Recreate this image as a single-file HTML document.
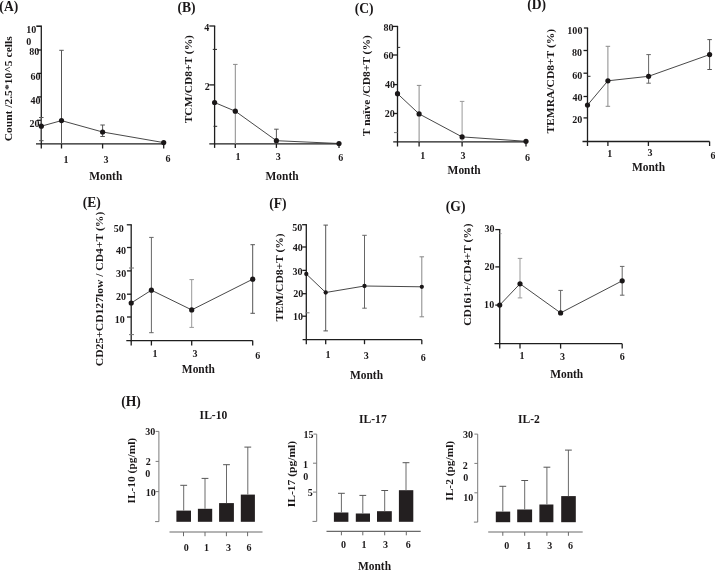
<!DOCTYPE html>
<html><head><meta charset="utf-8"><style>
html,body{margin:0;padding:0;background:#fff;}
body{width:715px;height:570px;overflow:hidden;}
svg{display:block;will-change:transform;}
text{font-family:"Liberation Serif",serif;font-weight:bold;}
</style></head><body>
<svg width="715" height="570" viewBox="0 0 715 570">
<rect width="715" height="570" fill="#fff"/>
<text transform="translate(-0.64,11.17) scale(1.000,1)" font-size="13.60" fill="#1a1718">(A)</text>
<line x1="41.30" y1="26.50" x2="41.30" y2="144.40" stroke="#1e1e1e" stroke-width="1.3"/>
<line x1="36.30" y1="26.20" x2="41.90" y2="26.20" stroke="#1e1e1e" stroke-width="1.6"/>
<line x1="37.00" y1="50.00" x2="41.30" y2="50.00" stroke="#1e1e1e" stroke-width="1.3"/>
<line x1="37.00" y1="73.40" x2="41.30" y2="73.40" stroke="#1e1e1e" stroke-width="1.3"/>
<line x1="37.00" y1="96.90" x2="41.30" y2="96.90" stroke="#1e1e1e" stroke-width="1.3"/>
<line x1="37.00" y1="120.30" x2="41.30" y2="120.30" stroke="#1e1e1e" stroke-width="1.3"/>
<line x1="36.00" y1="143.80" x2="164.00" y2="143.80" stroke="#1e1e1e" stroke-width="1.3"/>
<line x1="41.30" y1="143.80" x2="41.30" y2="148.50" stroke="#1e1e1e" stroke-width="1.3"/>
<line x1="61.50" y1="143.80" x2="61.50" y2="148.50" stroke="#1e1e1e" stroke-width="1.3"/>
<line x1="102.60" y1="143.80" x2="102.60" y2="148.50" stroke="#1e1e1e" stroke-width="1.3"/>
<line x1="163.70" y1="143.80" x2="163.70" y2="148.50" stroke="#1e1e1e" stroke-width="1.3"/>
<text transform="translate(26.16,33.08) scale(1.070,1)" font-size="9.40" fill="#1a1718">10</text>
<text transform="translate(26.19,44.78) scale(1.070,1)" font-size="9.40" fill="#1a1718">0</text>
<text transform="translate(29.25,55.28) scale(1.070,1)" font-size="9.40" fill="#1a1718">80</text>
<text transform="translate(30.49,80.48) scale(1.070,1)" font-size="9.40" fill="#1a1718">60</text>
<text transform="translate(30.59,103.73) scale(1.070,1)" font-size="9.40" fill="#1a1718">40</text>
<text transform="translate(29.45,126.83) scale(1.070,1)" font-size="9.40" fill="#1a1718">20</text>
<text transform="translate(63.59,163.05) scale(1.070,1)" font-size="9.40" fill="#1a1718">1</text>
<text transform="translate(103.62,162.52) scale(1.070,1)" font-size="9.40" fill="#1a1718">3</text>
<text transform="translate(165.51,161.72) scale(1.070,1)" font-size="9.40" fill="#1a1718">6</text>
<text transform="translate(89.18,180.15) scale(0.955,1)" font-size="12.00" fill="#1a1718">Month</text>
<text transform="translate(12.34,141.36) scale(0.979,1) rotate(-90)" font-size="11.54" fill="#1a1718">Count /2.5*10^5 cells</text>
<line x1="41.30" y1="117.50" x2="41.30" y2="140.70" stroke="#555" stroke-width="1.0"/>
<line x1="39.05" y1="117.50" x2="43.55" y2="117.50" stroke="#555" stroke-width="1.0"/>
<line x1="39.05" y1="140.70" x2="43.55" y2="140.70" stroke="#555" stroke-width="1.0"/>
<line x1="61.50" y1="50.30" x2="61.50" y2="143.80" stroke="#555" stroke-width="1.0"/>
<line x1="59.25" y1="50.30" x2="63.75" y2="50.30" stroke="#555" stroke-width="1.0"/>
<line x1="102.60" y1="125.00" x2="102.60" y2="136.50" stroke="#555" stroke-width="1.0"/>
<line x1="100.35" y1="125.00" x2="104.85" y2="125.00" stroke="#555" stroke-width="1.0"/>
<line x1="100.35" y1="136.50" x2="104.85" y2="136.50" stroke="#555" stroke-width="1.0"/>
<polyline points="41.30,126.20 61.50,120.60 102.60,132.00 163.70,142.60" fill="none" stroke="#333" stroke-width="0.9"/>
<circle cx="41.30" cy="126.20" r="2.6" fill="#1a1718"/>
<circle cx="61.50" cy="120.60" r="2.6" fill="#1a1718"/>
<circle cx="102.60" cy="132.00" r="2.6" fill="#1a1718"/>
<circle cx="163.70" cy="142.60" r="2.6" fill="#1a1718"/>
<text transform="translate(177.44,12.07) scale(1.000,1)" font-size="13.60" fill="#1a1718">(B)</text>
<line x1="214.60" y1="26.00" x2="214.60" y2="144.50" stroke="#1e1e1e" stroke-width="1.3"/>
<line x1="209.30" y1="26.00" x2="215.20" y2="26.00" stroke="#1e1e1e" stroke-width="1.3"/>
<line x1="209.30" y1="84.90" x2="214.60" y2="84.90" stroke="#1e1e1e" stroke-width="1.3"/>
<line x1="212.80" y1="49.40" x2="217.00" y2="49.40" stroke="#2a2a2a" stroke-width="1.0"/>
<line x1="213.50" y1="126.30" x2="217.20" y2="126.30" stroke="#2a2a2a" stroke-width="1.0"/>
<line x1="209.30" y1="143.90" x2="339.00" y2="143.90" stroke="#1e1e1e" stroke-width="1.3"/>
<line x1="214.60" y1="143.90" x2="214.60" y2="147.90" stroke="#1e1e1e" stroke-width="1.3"/>
<line x1="235.30" y1="143.90" x2="235.30" y2="147.90" stroke="#1e1e1e" stroke-width="1.3"/>
<line x1="276.40" y1="143.90" x2="276.40" y2="147.90" stroke="#1e1e1e" stroke-width="1.3"/>
<line x1="339.00" y1="143.90" x2="339.00" y2="147.90" stroke="#1e1e1e" stroke-width="1.3"/>
<text transform="translate(204.31,31.19) scale(1.070,1)" font-size="9.40" fill="#1a1718">4</text>
<text transform="translate(204.84,90.26) scale(1.070,1)" font-size="9.40" fill="#1a1718">2</text>
<text transform="translate(235.59,160.45) scale(1.070,1)" font-size="9.40" fill="#1a1718">1</text>
<text transform="translate(275.77,160.02) scale(1.070,1)" font-size="9.40" fill="#1a1718">3</text>
<text transform="translate(338.26,160.77) scale(1.070,1)" font-size="9.40" fill="#1a1718">6</text>
<text transform="translate(265.53,180.35) scale(0.955,1)" font-size="12.00" fill="#1a1718">Month</text>
<text transform="translate(192.12,123.28) scale(0.950,1) rotate(-90)" font-size="11.48" fill="#1a1718">TCM/CD8+T (%)</text>
<line x1="235.30" y1="64.40" x2="235.30" y2="143.90" stroke="#8a8a8a" stroke-width="1.0"/>
<line x1="233.05" y1="64.40" x2="237.55" y2="64.40" stroke="#8a8a8a" stroke-width="1.0"/>
<line x1="276.40" y1="129.20" x2="276.40" y2="143.90" stroke="#555" stroke-width="1.0"/>
<line x1="274.15" y1="129.20" x2="278.65" y2="129.20" stroke="#555" stroke-width="1.0"/>
<polyline points="214.60,102.50 235.30,111.20 276.40,140.70 339.00,143.50" fill="none" stroke="#333" stroke-width="0.9"/>
<circle cx="214.60" cy="102.50" r="2.6" fill="#1a1718"/>
<circle cx="235.30" cy="111.20" r="2.6" fill="#1a1718"/>
<circle cx="276.40" cy="140.70" r="2.6" fill="#1a1718"/>
<circle cx="339.00" cy="143.50" r="2.6" fill="#1a1718"/>
<text transform="translate(354.71,12.57) scale(1.000,1)" font-size="13.60" fill="#1a1718">(C)</text>
<line x1="397.50" y1="26.40" x2="397.50" y2="142.40" stroke="#1e1e1e" stroke-width="1.3"/>
<line x1="392.50" y1="26.40" x2="398.10" y2="26.40" stroke="#1e1e1e" stroke-width="1.3"/>
<line x1="393.00" y1="55.00" x2="397.50" y2="55.00" stroke="#1e1e1e" stroke-width="1.3"/>
<line x1="393.00" y1="84.60" x2="397.50" y2="84.60" stroke="#1e1e1e" stroke-width="1.3"/>
<line x1="393.00" y1="113.50" x2="397.50" y2="113.50" stroke="#1e1e1e" stroke-width="1.3"/>
<line x1="397.00" y1="47.40" x2="400.20" y2="47.40" stroke="#2a2a2a" stroke-width="1.0"/>
<line x1="394.00" y1="132.60" x2="397.50" y2="132.60" stroke="#777" stroke-width="1.0"/>
<line x1="393.20" y1="141.80" x2="526.00" y2="141.80" stroke="#1e1e1e" stroke-width="1.3"/>
<line x1="397.50" y1="141.80" x2="397.50" y2="146.50" stroke="#1e1e1e" stroke-width="1.3"/>
<line x1="419.10" y1="141.80" x2="419.10" y2="146.50" stroke="#1e1e1e" stroke-width="1.3"/>
<line x1="462.10" y1="141.80" x2="462.10" y2="146.50" stroke="#1e1e1e" stroke-width="1.3"/>
<line x1="526.00" y1="141.80" x2="526.00" y2="146.50" stroke="#1e1e1e" stroke-width="1.3"/>
<text transform="translate(383.40,30.53) scale(1.070,1)" font-size="9.40" fill="#1a1718">80</text>
<text transform="translate(383.59,58.53) scale(1.070,1)" font-size="9.40" fill="#1a1718">60</text>
<text transform="translate(384.99,88.13) scale(1.070,1)" font-size="9.40" fill="#1a1718">40</text>
<text transform="translate(384.85,117.33) scale(1.070,1)" font-size="9.40" fill="#1a1718">20</text>
<text transform="translate(420.14,158.60) scale(1.070,1)" font-size="9.40" fill="#1a1718">1</text>
<text transform="translate(460.62,158.62) scale(1.070,1)" font-size="9.40" fill="#1a1718">3</text>
<text transform="translate(525.06,160.87) scale(1.070,1)" font-size="9.40" fill="#1a1718">6</text>
<text transform="translate(447.58,173.60) scale(0.955,1)" font-size="12.00" fill="#1a1718">Month</text>
<text transform="translate(369.88,136.18) scale(0.950,1) rotate(-90)" font-size="11.50" fill="#1a1718">T naïve /CD8+T (%)</text>
<line x1="419.10" y1="85.40" x2="419.10" y2="141.80" stroke="#8a8a8a" stroke-width="1.0"/>
<line x1="416.85" y1="85.40" x2="421.35" y2="85.40" stroke="#8a8a8a" stroke-width="1.0"/>
<line x1="462.10" y1="101.40" x2="462.10" y2="141.80" stroke="#999" stroke-width="1.0"/>
<line x1="459.85" y1="101.40" x2="464.35" y2="101.40" stroke="#999" stroke-width="1.0"/>
<polyline points="397.50,93.70 419.10,113.90 462.10,136.90 526.00,141.30" fill="none" stroke="#333" stroke-width="0.9"/>
<circle cx="397.50" cy="93.70" r="2.6" fill="#1a1718"/>
<circle cx="419.10" cy="113.90" r="2.6" fill="#1a1718"/>
<circle cx="462.10" cy="136.90" r="2.6" fill="#1a1718"/>
<circle cx="526.00" cy="141.30" r="2.6" fill="#1a1718"/>
<text transform="translate(527.16,8.67) scale(1.000,1)" font-size="13.60" fill="#1a1718">(D)</text>
<line x1="587.50" y1="28.00" x2="587.50" y2="142.10" stroke="#1e1e1e" stroke-width="1.3"/>
<line x1="583.90" y1="28.00" x2="588.10" y2="28.00" stroke="#1e1e1e" stroke-width="1.3"/>
<line x1="583.50" y1="50.50" x2="587.50" y2="50.50" stroke="#1e1e1e" stroke-width="1.3"/>
<line x1="583.50" y1="73.20" x2="587.50" y2="73.20" stroke="#1e1e1e" stroke-width="1.3"/>
<line x1="583.50" y1="96.50" x2="587.50" y2="96.50" stroke="#1e1e1e" stroke-width="1.3"/>
<line x1="583.50" y1="117.90" x2="587.50" y2="117.90" stroke="#1e1e1e" stroke-width="1.3"/>
<line x1="587.00" y1="76.30" x2="590.50" y2="76.30" stroke="#2a2a2a" stroke-width="1.0"/>
<line x1="582.50" y1="141.50" x2="709.60" y2="141.50" stroke="#1e1e1e" stroke-width="1.3"/>
<line x1="587.50" y1="141.50" x2="587.50" y2="146.00" stroke="#1e1e1e" stroke-width="1.3"/>
<line x1="607.90" y1="141.50" x2="607.90" y2="146.00" stroke="#1e1e1e" stroke-width="1.3"/>
<line x1="648.40" y1="141.50" x2="648.40" y2="146.00" stroke="#1e1e1e" stroke-width="1.3"/>
<line x1="709.60" y1="141.50" x2="709.60" y2="146.00" stroke="#1e1e1e" stroke-width="1.3"/>
<text transform="translate(567.35,33.83) scale(1.070,1)" font-size="9.40" fill="#1a1718">100</text>
<text transform="translate(571.90,55.68) scale(1.070,1)" font-size="9.40" fill="#1a1718">80</text>
<text transform="translate(572.29,78.78) scale(1.070,1)" font-size="9.40" fill="#1a1718">60</text>
<text transform="translate(572.49,100.63) scale(1.070,1)" font-size="9.40" fill="#1a1718">40</text>
<text transform="translate(572.35,122.68) scale(1.070,1)" font-size="9.40" fill="#1a1718">20</text>
<text transform="translate(607.19,156.55) scale(1.070,1)" font-size="9.40" fill="#1a1718">1</text>
<text transform="translate(647.47,156.27) scale(1.070,1)" font-size="9.40" fill="#1a1718">3</text>
<text transform="translate(710.41,158.62) scale(1.070,1)" font-size="9.40" fill="#1a1718">6</text>
<text transform="translate(631.98,171.30) scale(0.955,1)" font-size="12.00" fill="#1a1718">Month</text>
<text transform="translate(553.84,133.58) scale(0.950,1) rotate(-90)" font-size="11.54" fill="#1a1718">TEMRA/CD8+T (%)</text>
<line x1="607.90" y1="46.30" x2="607.90" y2="106.30" stroke="#8a8a8a" stroke-width="1.0"/>
<line x1="605.65" y1="46.30" x2="610.15" y2="46.30" stroke="#8a8a8a" stroke-width="1.0"/>
<line x1="605.65" y1="106.30" x2="610.15" y2="106.30" stroke="#8a8a8a" stroke-width="1.0"/>
<line x1="648.60" y1="54.60" x2="648.60" y2="83.20" stroke="#666" stroke-width="1.0"/>
<line x1="646.35" y1="54.60" x2="650.85" y2="54.60" stroke="#666" stroke-width="1.0"/>
<line x1="646.35" y1="83.20" x2="650.85" y2="83.20" stroke="#666" stroke-width="1.0"/>
<line x1="709.60" y1="39.60" x2="709.60" y2="69.50" stroke="#555" stroke-width="1.0"/>
<line x1="707.35" y1="39.60" x2="711.85" y2="39.60" stroke="#555" stroke-width="1.0"/>
<line x1="707.35" y1="69.50" x2="711.85" y2="69.50" stroke="#555" stroke-width="1.0"/>
<polyline points="587.50,105.10 607.90,80.80 648.60,76.30 709.60,54.60" fill="none" stroke="#333" stroke-width="0.9"/>
<circle cx="587.50" cy="105.10" r="2.6" fill="#1a1718"/>
<circle cx="607.90" cy="80.80" r="2.6" fill="#1a1718"/>
<circle cx="648.60" cy="76.30" r="2.6" fill="#1a1718"/>
<circle cx="709.60" cy="54.60" r="2.6" fill="#1a1718"/>
<text transform="translate(82.69,206.67) scale(1.000,1)" font-size="13.60" fill="#1a1718">(E)</text>
<line x1="131.20" y1="224.80" x2="131.20" y2="341.20" stroke="#1e1e1e" stroke-width="1.3"/>
<line x1="126.80" y1="224.80" x2="131.80" y2="224.80" stroke="#1e1e1e" stroke-width="1.3"/>
<line x1="127.00" y1="247.50" x2="131.20" y2="247.50" stroke="#1e1e1e" stroke-width="1.3"/>
<line x1="127.00" y1="270.90" x2="131.20" y2="270.90" stroke="#1e1e1e" stroke-width="1.3"/>
<line x1="127.00" y1="294.20" x2="131.20" y2="294.20" stroke="#1e1e1e" stroke-width="1.3"/>
<line x1="127.00" y1="317.00" x2="131.20" y2="317.00" stroke="#1e1e1e" stroke-width="1.3"/>
<line x1="129.00" y1="268.00" x2="134.00" y2="268.00" stroke="#777" stroke-width="1.0"/>
<line x1="129.00" y1="334.60" x2="134.00" y2="334.60" stroke="#777" stroke-width="1.0"/>
<line x1="126.30" y1="340.60" x2="252.70" y2="340.60" stroke="#1e1e1e" stroke-width="1.3"/>
<line x1="131.20" y1="340.60" x2="131.20" y2="345.50" stroke="#1e1e1e" stroke-width="1.3"/>
<line x1="151.40" y1="340.60" x2="151.40" y2="345.50" stroke="#1e1e1e" stroke-width="1.3"/>
<line x1="191.70" y1="340.60" x2="191.70" y2="345.50" stroke="#1e1e1e" stroke-width="1.3"/>
<line x1="252.70" y1="340.60" x2="252.70" y2="345.50" stroke="#1e1e1e" stroke-width="1.3"/>
<text transform="translate(113.66,231.73) scale(1.070,1)" font-size="9.40" fill="#1a1718">50</text>
<text transform="translate(115.94,254.48) scale(1.070,1)" font-size="9.40" fill="#1a1718">40</text>
<text transform="translate(116.12,277.18) scale(1.070,1)" font-size="9.40" fill="#1a1718">30</text>
<text transform="translate(115.95,299.83) scale(1.070,1)" font-size="9.40" fill="#1a1718">20</text>
<text transform="translate(114.76,322.58) scale(1.070,1)" font-size="9.40" fill="#1a1718">10</text>
<text transform="translate(152.39,357.10) scale(1.070,1)" font-size="9.40" fill="#1a1718">1</text>
<text transform="translate(192.52,357.22) scale(1.070,1)" font-size="9.40" fill="#1a1718">3</text>
<text transform="translate(255.16,359.27) scale(1.070,1)" font-size="9.40" fill="#1a1718">6</text>
<text transform="translate(181.83,373.00) scale(0.955,1)" font-size="12.00" fill="#1a1718">Month</text>
<text transform="translate(103.10,366.17) scale(0.950,1) rotate(-90)" font-size="11.61" fill="#1a1718">CD25+CD127low / CD4+T (%)</text>
<line x1="151.40" y1="237.40" x2="151.40" y2="332.70" stroke="#666" stroke-width="1.0"/>
<line x1="149.15" y1="237.40" x2="153.65" y2="237.40" stroke="#666" stroke-width="1.0"/>
<line x1="149.15" y1="332.70" x2="153.65" y2="332.70" stroke="#666" stroke-width="1.0"/>
<line x1="191.70" y1="279.60" x2="191.70" y2="327.40" stroke="#999" stroke-width="1.0"/>
<line x1="189.45" y1="279.60" x2="193.95" y2="279.60" stroke="#999" stroke-width="1.0"/>
<line x1="189.45" y1="327.40" x2="193.95" y2="327.40" stroke="#999" stroke-width="1.0"/>
<line x1="252.70" y1="244.70" x2="252.70" y2="313.30" stroke="#555" stroke-width="1.0"/>
<line x1="250.45" y1="244.70" x2="254.95" y2="244.70" stroke="#555" stroke-width="1.0"/>
<line x1="250.45" y1="313.30" x2="254.95" y2="313.30" stroke="#555" stroke-width="1.0"/>
<polyline points="131.20,303.00 151.40,290.20 191.70,309.90 252.70,279.20" fill="none" stroke="#333" stroke-width="0.9"/>
<circle cx="131.20" cy="303.00" r="2.6" fill="#1a1718"/>
<circle cx="151.40" cy="290.20" r="2.6" fill="#1a1718"/>
<circle cx="191.70" cy="309.90" r="2.6" fill="#1a1718"/>
<circle cx="252.70" cy="279.20" r="2.6" fill="#1a1718"/>
<text transform="translate(269.17,208.02) scale(1.000,1)" font-size="13.60" fill="#1a1718">(F)</text>
<line x1="306.30" y1="224.70" x2="306.30" y2="340.20" stroke="#1e1e1e" stroke-width="1.3"/>
<line x1="302.10" y1="224.70" x2="306.90" y2="224.70" stroke="#1e1e1e" stroke-width="1.3"/>
<line x1="302.30" y1="247.00" x2="306.30" y2="247.00" stroke="#1e1e1e" stroke-width="1.3"/>
<line x1="302.30" y1="270.40" x2="306.30" y2="270.40" stroke="#1e1e1e" stroke-width="1.3"/>
<line x1="302.30" y1="293.70" x2="306.30" y2="293.70" stroke="#1e1e1e" stroke-width="1.3"/>
<line x1="302.30" y1="316.20" x2="306.30" y2="316.20" stroke="#1e1e1e" stroke-width="1.3"/>
<line x1="305.50" y1="312.80" x2="309.50" y2="312.80" stroke="#777" stroke-width="1.0"/>
<line x1="302.60" y1="339.70" x2="421.80" y2="339.70" stroke="#1e1e1e" stroke-width="1.3"/>
<line x1="306.30" y1="339.70" x2="306.30" y2="344.20" stroke="#1e1e1e" stroke-width="1.3"/>
<line x1="325.70" y1="339.70" x2="325.70" y2="344.20" stroke="#1e1e1e" stroke-width="1.3"/>
<line x1="364.50" y1="339.70" x2="364.50" y2="344.20" stroke="#1e1e1e" stroke-width="1.3"/>
<line x1="421.80" y1="339.70" x2="421.80" y2="344.20" stroke="#1e1e1e" stroke-width="1.3"/>
<text transform="translate(292.26,230.78) scale(1.070,1)" font-size="9.40" fill="#1a1718">50</text>
<text transform="translate(292.64,251.23) scale(1.070,1)" font-size="9.40" fill="#1a1718">40</text>
<text transform="translate(292.52,274.68) scale(1.070,1)" font-size="9.40" fill="#1a1718">30</text>
<text transform="translate(293.20,297.18) scale(1.070,1)" font-size="9.40" fill="#1a1718">20</text>
<text transform="translate(293.01,319.88) scale(1.070,1)" font-size="9.40" fill="#1a1718">10</text>
<text transform="translate(325.54,358.15) scale(1.070,1)" font-size="9.40" fill="#1a1718">1</text>
<text transform="translate(363.67,358.87) scale(1.070,1)" font-size="9.40" fill="#1a1718">3</text>
<text transform="translate(420.71,360.72) scale(1.070,1)" font-size="9.40" fill="#1a1718">6</text>
<text transform="translate(349.98,379.30) scale(0.955,1)" font-size="12.00" fill="#1a1718">Month</text>
<text transform="translate(282.69,321.38) scale(0.950,1) rotate(-90)" font-size="11.55" fill="#1a1718">TEM/CD8+T (%)</text>
<line x1="325.70" y1="225.10" x2="325.70" y2="330.90" stroke="#555" stroke-width="1.0"/>
<line x1="323.45" y1="225.10" x2="327.95" y2="225.10" stroke="#555" stroke-width="1.0"/>
<line x1="323.45" y1="330.90" x2="327.95" y2="330.90" stroke="#555" stroke-width="1.0"/>
<line x1="364.50" y1="235.30" x2="364.50" y2="308.20" stroke="#666" stroke-width="1.0"/>
<line x1="362.25" y1="235.30" x2="366.75" y2="235.30" stroke="#666" stroke-width="1.0"/>
<line x1="362.25" y1="308.20" x2="366.75" y2="308.20" stroke="#666" stroke-width="1.0"/>
<line x1="421.80" y1="256.80" x2="421.80" y2="316.80" stroke="#888" stroke-width="1.0"/>
<line x1="419.55" y1="256.80" x2="424.05" y2="256.80" stroke="#888" stroke-width="1.0"/>
<line x1="419.55" y1="316.80" x2="424.05" y2="316.80" stroke="#888" stroke-width="1.0"/>
<polyline points="306.30,274.00 325.70,292.50 364.50,286.00 421.80,286.80" fill="none" stroke="#333" stroke-width="0.9"/>
<circle cx="306.30" cy="274.00" r="2.15" fill="#1a1718"/>
<circle cx="325.70" cy="292.50" r="2.15" fill="#1a1718"/>
<circle cx="364.50" cy="286.00" r="2.15" fill="#1a1718"/>
<circle cx="421.80" cy="286.80" r="2.15" fill="#1a1718"/>
<text transform="translate(445.83,211.22) scale(1.000,1)" font-size="13.60" fill="#1a1718">(G)</text>
<line x1="499.70" y1="229.60" x2="499.70" y2="344.20" stroke="#1e1e1e" stroke-width="1.3"/>
<line x1="495.30" y1="229.60" x2="500.30" y2="229.60" stroke="#1e1e1e" stroke-width="1.3"/>
<line x1="495.30" y1="266.90" x2="499.70" y2="266.90" stroke="#1e1e1e" stroke-width="1.3"/>
<line x1="495.30" y1="305.10" x2="499.70" y2="305.10" stroke="#1e1e1e" stroke-width="1.3"/>
<line x1="499.70" y1="233.60" x2="501.80" y2="233.60" stroke="#999" stroke-width="0.8"/>
<line x1="494.50" y1="343.70" x2="622.20" y2="343.70" stroke="#1e1e1e" stroke-width="1.3"/>
<line x1="499.70" y1="343.70" x2="499.70" y2="348.60" stroke="#1e1e1e" stroke-width="1.3"/>
<line x1="520.00" y1="343.70" x2="520.00" y2="348.60" stroke="#1e1e1e" stroke-width="1.3"/>
<line x1="560.60" y1="343.70" x2="560.60" y2="348.60" stroke="#1e1e1e" stroke-width="1.3"/>
<line x1="622.20" y1="343.70" x2="622.20" y2="348.60" stroke="#1e1e1e" stroke-width="1.3"/>
<text transform="translate(484.52,232.48) scale(1.070,1)" font-size="9.40" fill="#1a1718">30</text>
<text transform="translate(484.40,269.88) scale(1.070,1)" font-size="9.40" fill="#1a1718">20</text>
<text transform="translate(484.11,308.13) scale(1.070,1)" font-size="9.40" fill="#1a1718">10</text>
<text transform="translate(519.39,358.90) scale(1.070,1)" font-size="9.40" fill="#1a1718">1</text>
<text transform="translate(560.12,359.72) scale(1.070,1)" font-size="9.40" fill="#1a1718">3</text>
<text transform="translate(619.86,359.72) scale(1.070,1)" font-size="9.40" fill="#1a1718">6</text>
<text transform="translate(550.13,377.50) scale(0.955,1)" font-size="12.00" fill="#1a1718">Month</text>
<text transform="translate(471.03,325.87) scale(0.962,1) rotate(-90)" font-size="11.57" fill="#1a1718">CD161+/CD4+T (%)</text>
<line x1="520.00" y1="258.40" x2="520.00" y2="297.90" stroke="#999" stroke-width="1.0"/>
<line x1="517.75" y1="258.40" x2="522.25" y2="258.40" stroke="#999" stroke-width="1.0"/>
<line x1="517.75" y1="297.90" x2="522.25" y2="297.90" stroke="#999" stroke-width="1.0"/>
<line x1="560.60" y1="290.40" x2="560.60" y2="312.90" stroke="#666" stroke-width="1.0"/>
<line x1="558.35" y1="290.40" x2="562.85" y2="290.40" stroke="#666" stroke-width="1.0"/>
<line x1="622.20" y1="266.40" x2="622.20" y2="295.20" stroke="#666" stroke-width="1.0"/>
<line x1="619.95" y1="266.40" x2="624.45" y2="266.40" stroke="#666" stroke-width="1.0"/>
<line x1="619.95" y1="295.20" x2="624.45" y2="295.20" stroke="#666" stroke-width="1.0"/>
<polyline points="499.70,305.10 520.00,283.80 560.60,312.90 622.20,280.80" fill="none" stroke="#333" stroke-width="0.9"/>
<circle cx="499.70" cy="305.10" r="2.6" fill="#1a1718"/>
<circle cx="520.00" cy="283.80" r="2.6" fill="#1a1718"/>
<circle cx="560.60" cy="312.90" r="2.6" fill="#1a1718"/>
<circle cx="622.20" cy="280.80" r="2.6" fill="#1a1718"/>
<text transform="translate(121.18,406.17) scale(1.000,1)" font-size="13.60" fill="#1a1718">(H)</text>
<text transform="translate(199.62,418.50) scale(1.000,1)" font-size="11.60" fill="#1a1718">IL-10</text>
<line x1="158.90" y1="431.40" x2="158.90" y2="521.60" stroke="#7a7a7a" stroke-width="1.0"/>
<line x1="155.60" y1="431.40" x2="158.90" y2="431.40" stroke="#7a7a7a" stroke-width="1.0"/>
<line x1="155.60" y1="461.40" x2="158.90" y2="461.40" stroke="#7a7a7a" stroke-width="1.0"/>
<line x1="155.60" y1="491.60" x2="158.90" y2="491.60" stroke="#7a7a7a" stroke-width="1.0"/>
<line x1="155.10" y1="521.60" x2="158.90" y2="521.60" stroke="#7a7a7a" stroke-width="1.0"/>
<text transform="translate(145.17,435.48) scale(1.070,1)" font-size="9.40" fill="#1a1718">30</text>
<text transform="translate(145.64,465.26) scale(1.070,1)" font-size="9.40" fill="#1a1718">2</text>
<text transform="translate(145.14,477.38) scale(1.070,1)" font-size="9.40" fill="#1a1718">0</text>
<text transform="translate(145.76,496.43) scale(1.070,1)" font-size="9.40" fill="#1a1718">10</text>
<text transform="translate(134.87,503.48) scale(0.950,1) rotate(-90)" font-size="11.42" fill="#1a1718">IL-10 (pg/ml)</text>
<rect x="176.40" y="510.60" width="14.60" height="11.20" fill="#231f20"/>
<rect x="197.90" y="508.80" width="14.30" height="13.00" fill="#231f20"/>
<rect x="219.10" y="503.10" width="14.80" height="18.70" fill="#231f20"/>
<rect x="240.80" y="494.60" width="14.10" height="27.20" fill="#231f20"/>
<line x1="183.70" y1="485.30" x2="183.70" y2="510.60" stroke="#6a6a6a" stroke-width="1.0"/>
<line x1="180.30" y1="485.30" x2="187.10" y2="485.30" stroke="#555" stroke-width="1.0"/>
<line x1="205.00" y1="478.40" x2="205.00" y2="508.80" stroke="#6a6a6a" stroke-width="1.0"/>
<line x1="201.60" y1="478.40" x2="208.40" y2="478.40" stroke="#555" stroke-width="1.0"/>
<line x1="226.50" y1="464.70" x2="226.50" y2="503.10" stroke="#6a6a6a" stroke-width="1.0"/>
<line x1="223.10" y1="464.70" x2="229.90" y2="464.70" stroke="#555" stroke-width="1.0"/>
<line x1="247.80" y1="447.10" x2="247.80" y2="494.60" stroke="#6a6a6a" stroke-width="1.0"/>
<line x1="244.40" y1="447.10" x2="251.20" y2="447.10" stroke="#555" stroke-width="1.0"/>
<line x1="169.50" y1="532.00" x2="262.50" y2="532.00" stroke="#6a6a6a" stroke-width="1.1"/>
<line x1="183.50" y1="532.00" x2="183.50" y2="536.20" stroke="#6a6a6a" stroke-width="1.0"/>
<line x1="205.00" y1="532.00" x2="205.00" y2="536.20" stroke="#6a6a6a" stroke-width="1.0"/>
<line x1="226.40" y1="532.00" x2="226.40" y2="536.20" stroke="#6a6a6a" stroke-width="1.0"/>
<line x1="247.60" y1="532.00" x2="247.60" y2="536.20" stroke="#6a6a6a" stroke-width="1.0"/>
<text transform="translate(183.69,550.68) scale(1.070,1)" font-size="9.40" fill="#1a1718">0</text>
<text transform="translate(204.09,550.70) scale(1.070,1)" font-size="9.40" fill="#1a1718">1</text>
<text transform="translate(226.02,550.67) scale(1.070,1)" font-size="9.40" fill="#1a1718">3</text>
<text transform="translate(246.56,550.67) scale(1.070,1)" font-size="9.40" fill="#1a1718">6</text>
<text transform="translate(358.99,422.83) scale(1.000,1)" font-size="11.60" fill="#1a1718">IL-17</text>
<line x1="316.70" y1="434.10" x2="316.70" y2="521.40" stroke="#7a7a7a" stroke-width="1.0"/>
<line x1="313.40" y1="434.10" x2="316.70" y2="434.10" stroke="#7a7a7a" stroke-width="1.0"/>
<line x1="313.00" y1="463.20" x2="316.70" y2="463.20" stroke="#7a7a7a" stroke-width="1.0"/>
<line x1="313.00" y1="492.10" x2="316.70" y2="492.10" stroke="#7a7a7a" stroke-width="1.0"/>
<line x1="312.50" y1="521.40" x2="316.70" y2="521.40" stroke="#7a7a7a" stroke-width="1.0"/>
<text transform="translate(303.40,438.01) scale(1.070,1)" font-size="9.40" fill="#1a1718">15</text>
<text transform="translate(302.99,467.70) scale(1.070,1)" font-size="9.40" fill="#1a1718">1</text>
<text transform="translate(303.19,479.58) scale(1.070,1)" font-size="9.40" fill="#1a1718">0</text>
<text transform="translate(307.72,495.98) scale(1.070,1)" font-size="9.40" fill="#1a1718">5</text>
<text transform="translate(295.05,507.19) scale(0.950,1) rotate(-90)" font-size="11.55" fill="#1a1718">IL-17 (pg/ml)</text>
<rect x="333.90" y="512.50" width="14.50" height="9.30" fill="#231f20"/>
<rect x="355.80" y="513.50" width="14.20" height="8.30" fill="#231f20"/>
<rect x="377.00" y="511.20" width="14.80" height="10.60" fill="#231f20"/>
<rect x="398.90" y="490.20" width="14.40" height="31.60" fill="#231f20"/>
<line x1="341.40" y1="493.30" x2="341.40" y2="512.50" stroke="#6a6a6a" stroke-width="1.0"/>
<line x1="338.00" y1="493.30" x2="344.80" y2="493.30" stroke="#555" stroke-width="1.0"/>
<line x1="362.80" y1="495.40" x2="362.80" y2="513.50" stroke="#6a6a6a" stroke-width="1.0"/>
<line x1="359.40" y1="495.40" x2="366.20" y2="495.40" stroke="#555" stroke-width="1.0"/>
<line x1="384.70" y1="490.50" x2="384.70" y2="511.20" stroke="#6a6a6a" stroke-width="1.0"/>
<line x1="381.30" y1="490.50" x2="388.10" y2="490.50" stroke="#555" stroke-width="1.0"/>
<line x1="406.00" y1="462.70" x2="406.00" y2="490.20" stroke="#6a6a6a" stroke-width="1.0"/>
<line x1="402.60" y1="462.70" x2="409.40" y2="462.70" stroke="#555" stroke-width="1.0"/>
<line x1="326.50" y1="531.40" x2="420.70" y2="531.40" stroke="#6a6a6a" stroke-width="1.1"/>
<line x1="341.40" y1="531.40" x2="341.40" y2="535.30" stroke="#6a6a6a" stroke-width="1.0"/>
<line x1="362.80" y1="531.40" x2="362.80" y2="535.30" stroke="#6a6a6a" stroke-width="1.0"/>
<line x1="384.70" y1="531.40" x2="384.70" y2="535.30" stroke="#6a6a6a" stroke-width="1.0"/>
<line x1="406.30" y1="531.40" x2="406.30" y2="535.30" stroke="#6a6a6a" stroke-width="1.0"/>
<text transform="translate(341.09,548.18) scale(1.070,1)" font-size="9.40" fill="#1a1718">0</text>
<text transform="translate(361.59,548.20) scale(1.070,1)" font-size="9.40" fill="#1a1718">1</text>
<text transform="translate(383.02,548.17) scale(1.070,1)" font-size="9.40" fill="#1a1718">3</text>
<text transform="translate(405.71,548.17) scale(1.070,1)" font-size="9.40" fill="#1a1718">6</text>
<text transform="translate(357.98,570.45) scale(0.955,1)" font-size="12.00" fill="#1a1718">Month</text>
<text transform="translate(518.00,422.94) scale(1.000,1)" font-size="11.60" fill="#1a1718">IL-2</text>
<line x1="477.70" y1="434.10" x2="477.70" y2="522.10" stroke="#7a7a7a" stroke-width="1.0"/>
<line x1="474.40" y1="434.10" x2="477.70" y2="434.10" stroke="#7a7a7a" stroke-width="1.0"/>
<line x1="474.40" y1="463.40" x2="477.70" y2="463.40" stroke="#7a7a7a" stroke-width="1.0"/>
<line x1="474.40" y1="492.80" x2="477.70" y2="492.80" stroke="#7a7a7a" stroke-width="1.0"/>
<line x1="473.90" y1="522.10" x2="477.70" y2="522.10" stroke="#7a7a7a" stroke-width="1.0"/>
<text transform="translate(463.07,438.33) scale(1.070,1)" font-size="9.40" fill="#1a1718">30</text>
<text transform="translate(462.79,468.76) scale(1.070,1)" font-size="9.40" fill="#1a1718">2</text>
<text transform="translate(463.34,480.53) scale(1.070,1)" font-size="9.40" fill="#1a1718">0</text>
<text transform="translate(463.26,500.73) scale(1.070,1)" font-size="9.40" fill="#1a1718">10</text>
<text transform="translate(453.01,500.68) scale(0.950,1) rotate(-90)" font-size="11.41" fill="#1a1718">IL-2 (pg/ml)</text>
<rect x="495.80" y="511.60" width="14.40" height="10.60" fill="#231f20"/>
<rect x="517.20" y="509.50" width="14.90" height="12.70" fill="#231f20"/>
<rect x="539.40" y="504.50" width="14.00" height="17.70" fill="#231f20"/>
<rect x="561.20" y="496.10" width="14.60" height="26.10" fill="#231f20"/>
<line x1="502.80" y1="486.30" x2="502.80" y2="511.60" stroke="#6a6a6a" stroke-width="1.0"/>
<line x1="499.40" y1="486.30" x2="506.20" y2="486.30" stroke="#555" stroke-width="1.0"/>
<line x1="524.70" y1="480.50" x2="524.70" y2="509.50" stroke="#6a6a6a" stroke-width="1.0"/>
<line x1="521.30" y1="480.50" x2="528.10" y2="480.50" stroke="#555" stroke-width="1.0"/>
<line x1="546.90" y1="467.20" x2="546.90" y2="504.50" stroke="#6a6a6a" stroke-width="1.0"/>
<line x1="543.50" y1="467.20" x2="550.30" y2="467.20" stroke="#555" stroke-width="1.0"/>
<line x1="568.40" y1="450.10" x2="568.40" y2="496.10" stroke="#6a6a6a" stroke-width="1.0"/>
<line x1="565.00" y1="450.10" x2="571.80" y2="450.10" stroke="#555" stroke-width="1.0"/>
<line x1="488.20" y1="532.00" x2="582.70" y2="532.00" stroke="#6a6a6a" stroke-width="1.1"/>
<line x1="502.80" y1="532.00" x2="502.80" y2="535.80" stroke="#6a6a6a" stroke-width="1.0"/>
<line x1="524.70" y1="532.00" x2="524.70" y2="535.80" stroke="#6a6a6a" stroke-width="1.0"/>
<line x1="546.90" y1="532.00" x2="546.90" y2="535.80" stroke="#6a6a6a" stroke-width="1.0"/>
<line x1="568.40" y1="532.00" x2="568.40" y2="535.80" stroke="#6a6a6a" stroke-width="1.0"/>
<text transform="translate(504.19,548.98) scale(1.070,1)" font-size="9.40" fill="#1a1718">0</text>
<text transform="translate(526.19,549.00) scale(1.070,1)" font-size="9.40" fill="#1a1718">1</text>
<text transform="translate(547.32,548.97) scale(1.070,1)" font-size="9.40" fill="#1a1718">3</text>
<text transform="translate(567.91,548.97) scale(1.070,1)" font-size="9.40" fill="#1a1718">6</text>
</svg>
</body></html>
